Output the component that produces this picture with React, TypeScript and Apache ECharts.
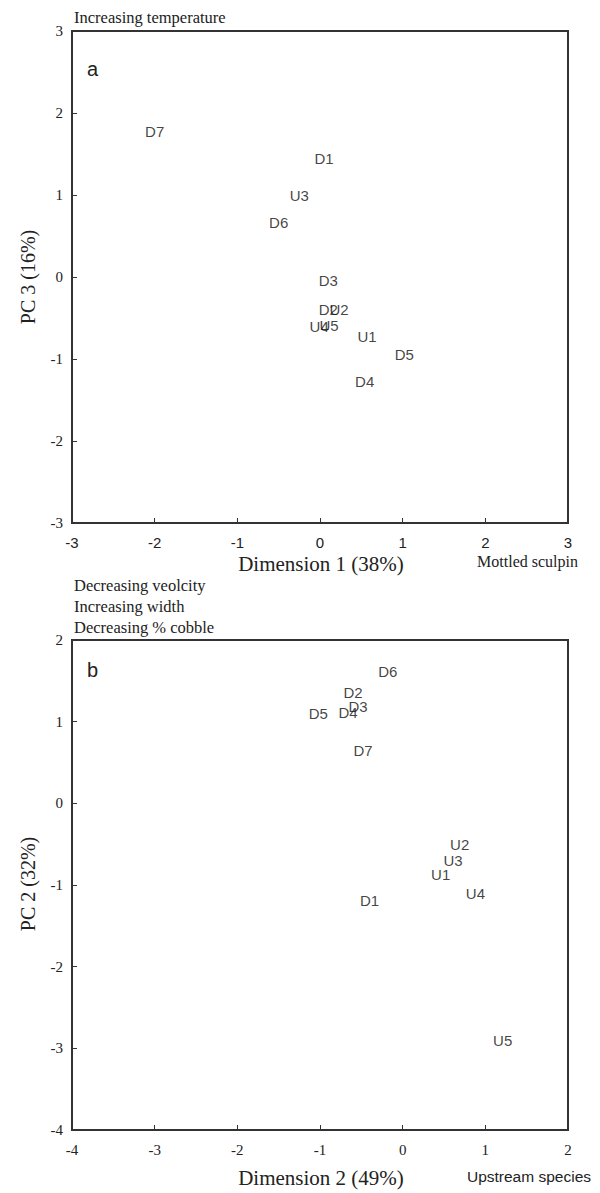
import React, { useEffect, useRef } from "react";
import * as echarts from "echarts";

// Panel a: Dimension 1 vs PC 3
const labelsA = ["D7", "D1", "U3", "D6", "D3", "D2", "U2", "U4", "U5", "U1", "D5", "D4"];
const xA = [-2.0, 0.05, -0.25, -0.5, 0.1, 0.1, 0.23, -0.01, 0.11, 0.57, 1.02, 0.54];
const yA = [1.78, 1.44, 1.0, 0.67, -0.04, -0.4, -0.4, -0.6, -0.59, -0.73, -0.95, -1.27];

// Panel b: Dimension 2 vs PC 2
const labelsB = ["D6", "D2", "D3", "D4", "D5", "D7", "U2", "U3", "U1", "U4", "D1", "U5"];
const xB = [-0.18, -0.6, -0.54, -0.66, -1.02, -0.48, 0.69, 0.61, 0.46, 0.88, -0.4, 1.21];
const yB = [1.62, 1.36, 1.19, 1.11, 1.1, 0.65, -0.5, -0.7, -0.87, -1.11, -1.19, -2.91];

const ticksA = { min: -3, max: 3, interval: 1 };
const ticksBx = { min: -4, max: 2, interval: 1 };
const ticksBy = { min: -4, max: 2, interval: 1 };

const SERIF = "'Liberation Serif', 'Times New Roman', serif";
const SANS = "'Liberation Sans', Arial, sans-serif";
const LINE = "#333";

function mkData(labels: string[], xs: number[], ys: number[]) {
  return labels.map((n, i) => ({ name: n, value: [xs[i], ys[i]] }));
}

function axis(gridIndex: number, t: { min: number; max: number; interval: number }, font: string, isX: boolean) {
  return {
    type: "value",
    gridIndex,
    min: t.min,
    max: t.max,
    interval: t.interval,
    splitLine: { show: false },
    axisLine: { show: true, onZero: false, lineStyle: { color: LINE, width: 2 } },
    axisTick: { show: true, inside: true, length: 5, lineStyle: { color: LINE, width: 1 } },
    axisLabel: {
      fontFamily: font,
      fontSize: 15,
      color: "#222",
      margin: isX ? 12 : 9,
    },
  };
}

export default function App() {
  const ref = useRef<HTMLDivElement>(null);
  useEffect(() => {
    if (!ref.current) return;
    const chart = echarts.init(ref.current, null, { renderer: "svg" });
    const labelStyle = {
      show: true,
      position: "inside",
      formatter: "{b}",
      fontFamily: SANS,
      fontSize: 15,
      color: "#111",
    };
    const txt = (x: number, y: number, text: string, font: string, size: number, align = "left", rot = 0) => ({
      type: "text",
      x,
      y,
      rotation: rot,
      style: {
        text,
        fontFamily: font,
        fontSize: size,
        fill: "#222",
        align,
        verticalAlign: "middle",
      },
    });
    chart.setOption({
      animation: false,
      backgroundColor: "#fff",
      grid: [
        { left: 72, top: 31, width: 496, height: 492, show: true, borderColor: LINE, borderWidth: 2, backgroundColor: "transparent" },
        { left: 72, top: 640, width: 496, height: 490, show: true, borderColor: LINE, borderWidth: 2, backgroundColor: "transparent" },
      ],
      xAxis: [axis(0, ticksA, SANS, true), axis(1, ticksBx, SERIF, true)],
      yAxis: [axis(0, ticksA, SERIF, false), axis(1, ticksBy, SERIF, false)],
      series: [
        {
          type: "scatter",
          xAxisIndex: 0,
          yAxisIndex: 0,
          symbolSize: 1,
          itemStyle: { color: "rgba(0,0,0,0)" },
          label: labelStyle,
          data: mkData(labelsA, xA, yA),
        },
        {
          type: "scatter",
          xAxisIndex: 1,
          yAxisIndex: 1,
          symbolSize: 1,
          itemStyle: { color: "rgba(0,0,0,0)" },
          label: labelStyle,
          data: mkData(labelsB, xB, yB),
        },
      ],
      graphic: [
        txt(74, 17, "Increasing temperature", SERIF, 16.5),
        txt(87, 69, "a", SANS, 20),
        txt(321, 564, "Dimension 1 (38%)", SERIF, 21, "center"),
        txt(578, 561, "Mottled sculpin", SERIF, 16, "right"),
        txt(28, 277, "PC 3 (16%)", SERIF, 20, "center", Math.PI / 2),
        txt(74, 585, "Decreasing veolcity", SERIF, 16.5),
        txt(74, 606, "Increasing width", SERIF, 16.5),
        txt(74, 627, "Decreasing % cobble", SERIF, 16.5),
        txt(87, 670, "b", SANS, 20),
        txt(28, 884, "PC 2 (32%)", SERIF, 20, "center", Math.PI / 2),
        txt(321, 1178, "Dimension 2 (49%)", SERIF, 21, "center"),
        txt(591, 1176, "Upstream species", SANS, 15.5, "right"),
      ],
    });
    return () => chart.dispose();
  }, []);
  return (
    <div
      ref={ref}
      style={{ position: "absolute", left: 0, top: 0, width: 600, height: 1193, background: "#fff" }}
    />
  );
}
